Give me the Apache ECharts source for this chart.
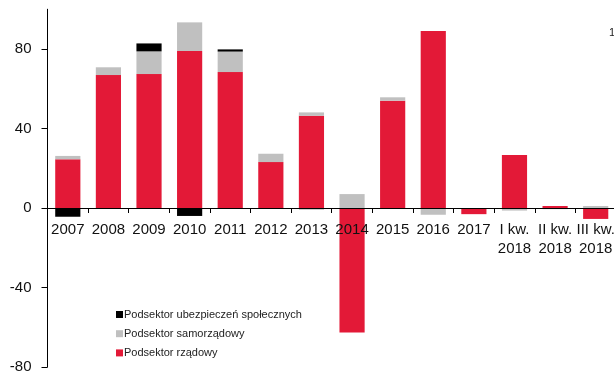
<!DOCTYPE html>
<html>
<head>
<meta charset="utf-8">
<script src="https://cdn.jsdelivr.net/npm/echarts@6/dist/echarts.min.js"></script>
<style>
    html, body { margin: 0; padding: 0; background: #fff; }
    #chart { width: 614px; height: 376px; }
</style>
</head>
<body>
<div id="chart"></div>
<script>
// kategorie osi X
const categories = ['2007', '2008', '2009', '2010', '2011', '2012', '2013', '2014', '2015', '2016', '2017', 'I kw.\n2018', 'II kw.\n2018', 'III kw.\n2018'];
// Podsektor rządowy
const rzadowy = [24.5, 66.9, 67.4, 79.0, 68.4, 23.1, 46.4, -62.6, 54.0, 89.1, -3.1, 26.7, 1.0, -5.5];
// Podsektor samorządowy
const samorzadowy = [1.7, 3.9, 11.4, 14.4, 10.3, 4.2, 1.7, 7.0, 1.7, -3.4, 0, -1.3, -0.6, 1.0];
// Podsektor ubezpieczeń społecznych
const ubezpieczen = [-4.4, 0, 4.0, -4.0, 1.1, 0, -0.6, 0, 0, 0, 0, 0, 0, 0];
const yTicks = [-80, -40, 0, 40, 80];
const Y_MIN = -80;
const Y_MAX = 100;

const FONT = 'Liberation Sans, Arial, sans-serif';
const COLORS = {
    rzadowy: '#e31937',
    samorzadowy: '#c0c0c0',
    ubezpieczen: '#000000'
};

const chart = echarts.init(document.getElementById('chart'));

function barSeries(name, data, color) {
    return {
        name: name,
        type: 'bar',
        stack: 'total',
        barWidth: '62%',
        itemStyle: { color: color },
        data: data
    };
}

chart.setOption({
    animation: false,
    textStyle: { fontFamily: FONT },
    grid: {
        left: 47.5,
        right: -2,
        top: 9.25,
        bottom: 9,
        containLabel: false,
        outerBoundsMode: 'none'
    },
    legend: {
        orient: 'vertical',
        left: 111,
        top: 304,
        itemWidth: 7,
        itemHeight: 7,
        itemGap: 8.2,
        icon: 'rect',
        textStyle: {
            fontSize: 11,
            color: '#222',
            fontFamily: FONT,
            padding: [0, 0, 0, -4]
        },
        data: ['Podsektor ubezpieczeń społecznych', 'Podsektor samorządowy', 'Podsektor rządowy']
    },
    xAxis: {
        type: 'category',
        data: categories,
        z: 10,
        axisLine: {
            onZero: false,
            lineStyle: { color: '#000', width: 1 }
        },
        axisTick: {
            show: true,
            length: 5,
            lineStyle: { color: '#000' }
        },
        axisLabel: {
            color: '#111',
            fontSize: 15,
            margin: 13,
            lineHeight: 18.5,
            interval: 0,
            fontFamily: FONT
        },
        splitLine: { show: false }
    },
    yAxis: {
        type: 'value',
        min: Y_MIN,
        max: Y_MAX,
        interval: 40,
        axisLine: {
            show: true,
            lineStyle: { color: '#000', width: 1 }
        },
        axisTick: {
            show: true,
            length: 6,
            customValues: yTicks,
            lineStyle: { color: '#000' }
        },
        axisLabel: {
            color: '#111',
            fontSize: 15,
            margin: 16,
            customValues: yTicks,
            fontFamily: FONT
        },
        splitLine: { show: false }
    },
    graphic: [{
        type: 'text',
        left: 609,
        top: 27,
        style: { text: '1', fontSize: 11, fill: '#222', fontFamily: FONT }
    }],
    series: [
        barSeries('Podsektor rządowy', rzadowy, COLORS.rzadowy),
        barSeries('Podsektor samorządowy', samorzadowy, COLORS.samorzadowy),
        barSeries('Podsektor ubezpieczeń społecznych', ubezpieczen, COLORS.ubezpieczen)
    ]
});

// przesuń oś X (linia, znaczniki i etykiety) na poziom zera
const yZero = chart.convertToPixel({ yAxisIndex: 0 }, 0);
const yBottom = chart.convertToPixel({ yAxisIndex: 0 }, Y_MIN);
chart.setOption({
    xAxis: { offset: yZero - yBottom }
});
</script>
</body>
</html>
